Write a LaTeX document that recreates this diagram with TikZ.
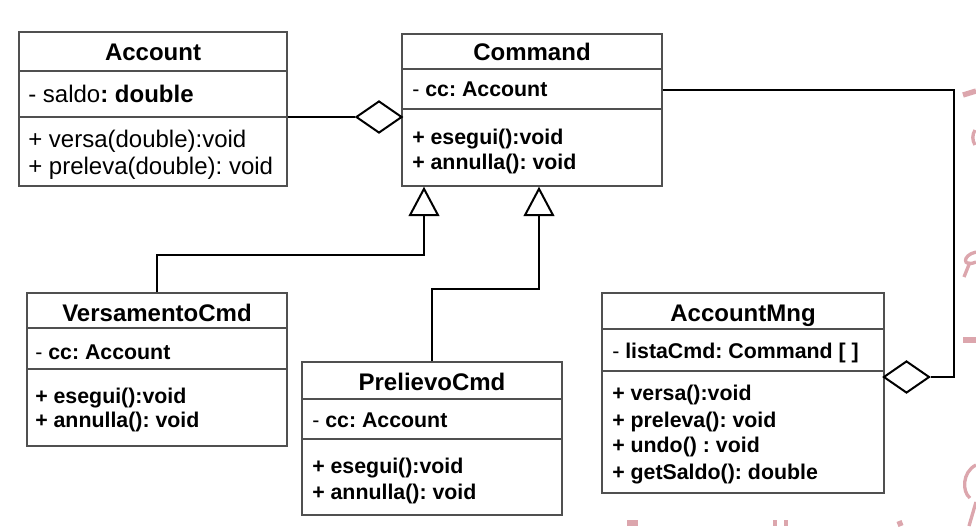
\documentclass[tikz,border=0pt]{standalone}
\usepackage{fontspec}
\setmainfont{Liberation Sans}
\usetikzlibrary{arrows.meta,shapes.geometric}
\definecolor{boxgray}{HTML}{505050}
\definecolor{wmpink}{HTML}{DCA6AD}
\frenchspacing
\tikzset{
  classbox/.style={draw=boxgray, line width=1pt, inner sep=0pt, fill=white},
  divider/.style={draw=boxgray, line width=1pt},
  ttl/.style={anchor=base, inner sep=0pt, font=\fontsize{18}{20}\selectfont\bfseries},
  mem/.style={anchor=base west, inner sep=0pt, font=\fontsize{16}{18}\selectfont\bfseries},
  memreg/.style={anchor=base west, inner sep=0pt, font=\fontsize{18}{20}\selectfont},
  conn/.style={line width=1.5pt, draw=black},
  gen/.style={conn, -{Triangle[open, length=22pt, width=23pt, line width=1.5pt]}},
  agg/.style={diamond, draw=black, line width=1.5pt, inner sep=0pt,
              minimum width=34.5pt, minimum height=24pt, fill=white},
  wm/.style={draw=wmpink, line width=4pt},
}
\begin{document}
\begin{tikzpicture}[x=0.75pt, y=-0.75pt]
\useasboundingbox (0,0) rectangle (976,526);

% watermark fragments
\draw[wm] (963,95) -- (976,91);
\draw[wm, line width=2.5pt] (975,130) to[bend right=30] (975,145);
\draw[wm, line width=2.5pt] (976,252) .. controls (962,255) and (962,268) .. (976,262);
\draw[wm, line width=2.5pt] (970,262) -- (964,277);
\draw[wm, line width=5pt] (963,340) -- (976,340);
\draw[wm, line width=2.5pt] (976,465) .. controls (962,472) and (962,492) .. (970,498);
\draw[wm, line width=2.5pt] (976,502) -- (969,526);
\draw[wm, line width=5pt] (627,523) -- (638,523);
\draw[wm, line width=3pt] (775,520) -- (775,526);
\draw[wm, line width=3pt] (786,520) -- (786,526);
\draw[wm, line width=4pt] (899,521) -- (901,526);

% ---------- Account ----------
\node[classbox, minimum width=201pt, minimum height=115.5pt] (acc) at (153,109) {};
\draw[divider] (acc.west |- 0,71) -- (acc.east |- 0,71);
\draw[divider] (acc.west |- 0,117) -- (acc.east |- 0,117);
\node[ttl] (accT) at (153,60) {Account};
\node[memreg] (accA) at (28,102) {- saldo\textbf{: double}};
\node[memreg] (accM1) at (28,147) {+ versa(double):void};
\node[memreg] (accM2) at (28,174.5) {+ preleva(double): void};

% ---------- Command ----------
\node[classbox, minimum width=195pt, minimum height=114pt] (cmd) at (532,110) {};
\draw[divider] (cmd.west |- 0,69) -- (cmd.east |- 0,69);
\draw[divider] (cmd.west |- 0,109) -- (cmd.east |- 0,109);
\node[ttl] (cmdT) at (532,60) {Command};
\node[mem] (cmdA) at (412,96.7) {\mdseries-\bfseries\ cc: Account};
\node[mem] (cmdM1) at (412,144.4) {+ esegui():void};
\node[mem] (cmdM2) at (412,169.4) {+ annulla(): void};

% ---------- VersamentoCmd ----------
\node[classbox, minimum width=195pt, minimum height=114.75pt] (ver) at (157,369.5) {};
\draw[divider] (ver.west |- 0,328) -- (ver.east |- 0,328);
\draw[divider] (ver.west |- 0,369) -- (ver.east |- 0,369);
\node[ttl] (verT) at (157,321.6) {VersamentoCmd};
\node[mem] (verA) at (35,359.4) {\mdseries-\bfseries\ cc: Account};
\node[mem] (verM1) at (35,403.4) {+ esegui():void};
\node[mem] (verM2) at (35,427.7) {+ annulla(): void};

% ---------- PrelievoCmd ----------
\node[classbox, minimum width=195pt, minimum height=114.75pt] (pre) at (432,438.5) {};
\draw[divider] (pre.west |- 0,399) -- (pre.east |- 0,399);
\draw[divider] (pre.west |- 0,439) -- (pre.east |- 0,439);
\node[ttl] (preT) at (432,390.3) {PrelievoCmd};
\node[mem] (preA) at (312,427.7) {\mdseries-\bfseries\ cc: Account};
\node[mem] (preM1) at (312,473.7) {+ esegui():void};
\node[mem] (preM2) at (312,499.4) {+ annulla(): void};

% ---------- AccountMng ----------
\node[classbox, minimum width=211.5pt, minimum height=150pt] (mng) at (743,393) {};
\draw[divider] (mng.west |- 0,329) -- (mng.east |- 0,329);
\draw[divider] (mng.west |- 0,371) -- (mng.east |- 0,371);
\node[ttl] (mngT) at (743,321.3) {AccountMng};
\node[mem] (mngA) at (612,358.4) {\mdseries-\bfseries\ listaCmd: Command [ ]};
\node[mem] (mngM1) at (612,400.4) {+ versa():void};
\node[mem] (mngM2) at (612,427) {+ preleva(): void};
\node[mem] (mngM3) at (612,452.7) {+ undo() : void};
\node[mem] (mngM4) at (612,479.4) {+ getSaldo(): double};

% ---------- connectors ----------
\node[agg] (d1) at (379,117) {};
\draw[conn] (acc.east |- d1) -- (d1.west);

\node[agg] (d2) at (906.5,377) {};
\coordinate (c2) at (954,90);
\draw[conn] (cmd.east |- c2) -- (c2) |- (d2.east);

\coordinate (g1) at (424,255);
\draw[gen] (ver.north) |- (g1) -- (cmd.south -| g1);

\coordinate (g2) at (539,289);
\draw[gen] (pre.north) |- (g2) -- (cmd.south -| g2);
\end{tikzpicture}
\end{document}
